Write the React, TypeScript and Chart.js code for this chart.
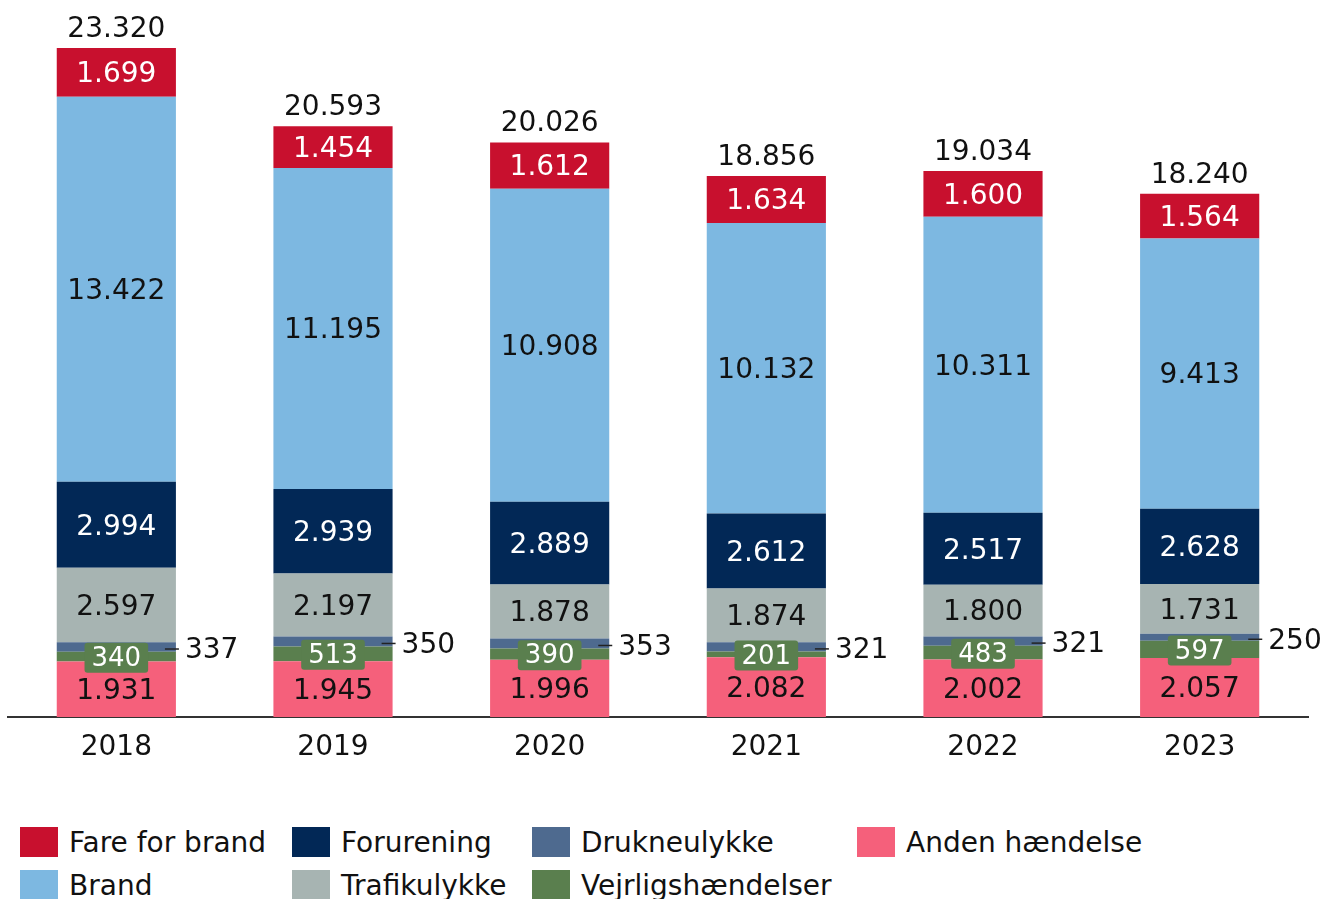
import React, { useEffect, useRef } from "react";
import { Chart, registerables } from "chart.js";

Chart.register(...registerables);

const categories = ["2018", "2019", "2020", "2021", "2022", "2023"];
const andenHaendelse = [1931, 1945, 1996, 2082, 2002, 2057];
const vejrligshaendelser = [340, 513, 390, 201, 483, 597];
const drukneulykke = [337, 350, 353, 321, 321, 250];
const trafikulykke = [2597, 2197, 1878, 1874, 1800, 1731];
const forurening = [2994, 2939, 2889, 2612, 2517, 2628];
const brand = [13422, 11195, 10908, 10132, 10311, 9413];
const fareForBrand = [1699, 1454, 1612, 1634, 1600, 1564];
const totals = [23320, 20593, 20026, 18856, 19034, 18240];

const FONT = '"DejaVu Sans", Verdana, sans-serif';

type Series = { label: string; data: number[]; color: string; text: string; kind: "in" | "box" | "side" };

// stack order bottom -> top
const series: Series[] = [
  { label: "Anden hændelse", data: andenHaendelse, color: "#F5607B", text: "#111", kind: "in" },
  { label: "Vejrligshændelser", data: vejrligshaendelser, color: "#5A7F4E", text: "#fff", kind: "box" },
  { label: "Drukneulykke", data: drukneulykke, color: "#4E6A8F", text: "#111", kind: "side" },
  { label: "Trafikulykke", data: trafikulykke, color: "#A7B4B2", text: "#111", kind: "in" },
  { label: "Forurening", data: forurening, color: "#022856", text: "#fff", kind: "in" },
  { label: "Brand", data: brand, color: "#7DB8E1", text: "#111", kind: "in" },
  { label: "Fare for brand", data: fareForBrand, color: "#C8102E", text: "#fff", kind: "in" },
];

const fmt = (n: number) => String(n).replace(/\B(?=(\d{3})+(?!\d))/g, ".");

const labelPlugin = {
  id: "segLabels",
  afterDatasetsDraw(chart: any) {
    const ctx = chart.ctx as CanvasRenderingContext2D;
    ctx.save();
    series.forEach((s, i) => {
      const meta = chart.getDatasetMeta(i);
      meta.data.forEach((el: any, j: number) => {
        const { x, y, base, width } = el.getProps(["x", "y", "base", "width"], true);
        const cy = (y + base) / 2;
        const txt = fmt(s.data[j]);
        if (s.kind === "in") {
          ctx.font = `28px ${FONT}`;
          ctx.fillStyle = s.text;
          ctx.textAlign = "center";
          ctx.textBaseline = "middle";
          ctx.fillText(txt, x, cy + 2.5);
        } else if (s.kind === "box") {
          ctx.font = `26px ${FONT}`;
          const tw = ctx.measureText(txt).width;
          const bw = tw + 14;
          const bh = 30;
          ctx.fillStyle = s.color;
          ctx.beginPath();
          (ctx as any).roundRect(x - bw / 2, cy - bh / 2 + 1, bw, bh, 3);
          ctx.fill();
          ctx.fillStyle = s.text;
          ctx.textAlign = "center";
          ctx.textBaseline = "middle";
          ctx.fillText(txt, x, cy + 2.5);
        } else {
          const right = x + width / 2;
          ctx.strokeStyle = "#222";
          ctx.lineWidth = 1.5;
          ctx.beginPath();
          ctx.moveTo(right - 11, cy + 2);
          ctx.lineTo(right + 3, cy + 2);
          ctx.stroke();
          ctx.font = `28px ${FONT}`;
          ctx.fillStyle = s.text;
          ctx.textAlign = "left";
          ctx.textBaseline = "middle";
          ctx.fillText(txt, right + 9, cy + 4);
        }
      });
    });
    // totals
    const topMeta = chart.getDatasetMeta(series.length - 1);
    topMeta.data.forEach((el: any, j: number) => {
      const { x, y } = el.getProps(["x", "y"], true);
      ctx.font = `28px ${FONT}`;
      ctx.fillStyle = "#111";
      ctx.textAlign = "center";
      ctx.textBaseline = "alphabetic";
      ctx.fillText(fmt(totals[j]), x, y - 11);
    });
    ctx.restore();
  },
};

export default function App() {
  const ref = useRef<HTMLCanvasElement | null>(null);
  useEffect(() => {
    if (!ref.current) return;
    const chart = new Chart(ref.current, {
      type: "bar",
      data: {
        labels: categories,
        datasets: series.map((s) => ({
          label: s.label,
          data: s.data,
          backgroundColor: s.color,
          borderWidth: 0,
          categoryPercentage: 1,
          barPercentage: 0.55,
        })),
      },
      options: {
        responsive: false,
        animation: false,
        layout: { padding: { left: 8, right: 14, top: 48, bottom: 0 } },
        plugins: { legend: { display: false }, tooltip: { enabled: false } },
        scales: {
          x: {
            stacked: true,
            grid: { display: false, drawTicks: false },
            border: { display: true, color: "#333", width: 2 },
            ticks: { color: "#111", font: { family: FONT, size: 28 }, padding: 14 },
            afterFit: (scale: any) => {
              scale.height = 60;
            },
          },
          y: {
            stacked: true,
            display: false,
            min: 0,
            max: 23320,
          },
        },
      },
      plugins: [labelPlugin],
    });
    return () => chart.destroy();
  }, []);

  const legendItems = [...series].reverse();
  const cols = [20, 292, 532, 857];
  const rows = [827, 870];

  return (
    <div style={{ position: "absolute", left: 0, top: 0, width: 1322, height: 899, background: "#fff", overflow: "hidden" }}>
      <canvas ref={ref} width={1322} height={777} style={{ position: "absolute", left: 0, top: 0 }} />
      {legendItems.map((s, k) => {
        const col = Math.floor(k / 2);
        const row = k % 2;
        return (
          <div
            key={s.label}
            style={{
              position: "absolute",
              left: cols[col],
              top: rows[row],
              display: "flex",
              alignItems: "center",
              height: 30,
              fontFamily: FONT,
              fontSize: 28,
              color: "#111",
              whiteSpace: "nowrap",
            }}
          >
            <span style={{ display: "inline-block", width: 38, height: 30, background: s.color, marginRight: 11 }} />
            <span>{s.label}</span>
          </div>
        );
      })}
    </div>
  );
}
